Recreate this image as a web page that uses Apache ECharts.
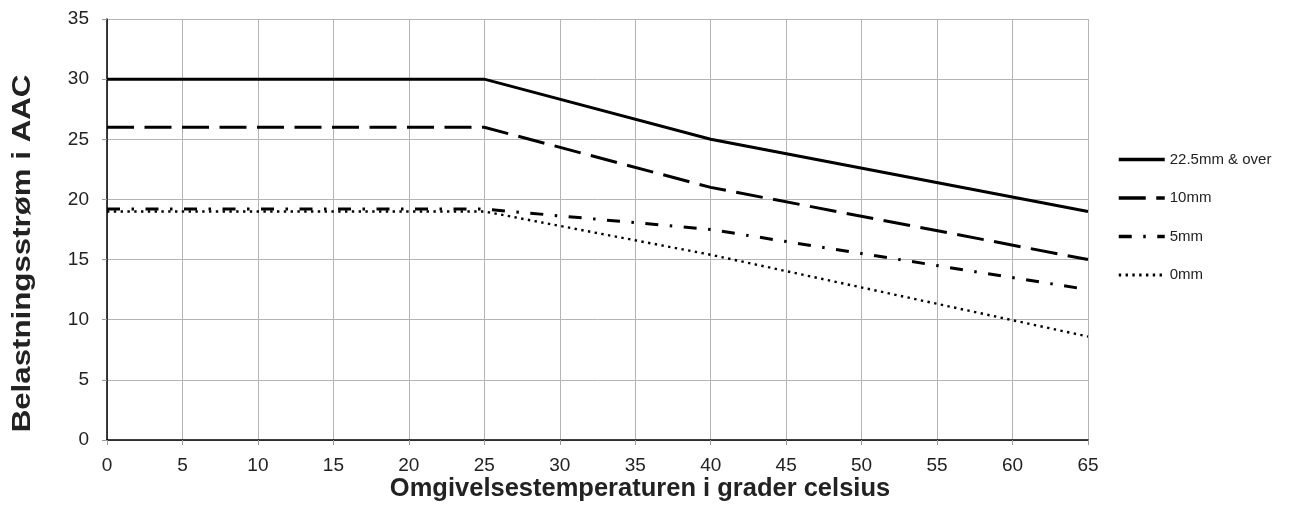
<!DOCTYPE html>
<html>
<head>
<meta charset="utf-8">
<script src="https://cdn.jsdelivr.net/npm/echarts@6/dist/echarts.min.js"></script>
<style>
html,body{margin:0;padding:0;background:#fff;}
#chart{width:1298px;height:506px;}
</style>
</head>
<body>
<div id="chart"></div>
<script>
var temps = [0, 25, 40, 65];
var s22 = [30, 30, 25, 19];
var s10 = [26, 26, 21, 15];
var s5 = [19.2, 19.2, 17.5, 12.5];
var s0 = [19, 19, 15.4, 8.6];
var seriesNames = ['22.5mm & over', '10mm', '5mm', '0mm'];
var xTitle = 'Omgivelsestemperaturen i grader celsius';
var yTitle = 'Belastningsstrøm i AAC';

function pts(vals){ return temps.map(function(t,i){ return [t, vals[i]]; }); }

var FONT = '"Liberation Sans", Arial, sans-serif';
var styles = [
  {width: 3, type: 'solid'},
  {width: 3, type: [27, 10.5]},
  {width: 3, type: [13, 11.5, 2.5, 11.5]},
  {width: 2.4, type: [2.4, 4.4]}
];
var allVals = [s22, s10, s5, s0];

var chart = echarts.init(document.getElementById('chart'), null, {renderer: 'canvas'});
chart.setOption({
  animation: false,
  backgroundColor: '#ffffff',
  grid: {left: 107, right: 210, top: 19, bottom: 66, containLabel: false},
  legend: {
    orient: 'vertical',
    left: 1117,
    top: 152,
    padding: 0,
    itemWidth: 46,
    itemHeight: 14,
    itemGap: 23.5,
    itemStyle: {opacity: 0},
    textStyle: {fontFamily: FONT, fontSize: 15, color: '#222'},
    data: seriesNames.map(function(n, i){
      return {name: n, lineStyle: {color: '#000', width: styles[i].width + 0.5, type: styles[i].type, cap: 'butt'}};
    })
  },
  xAxis: {
    type: 'value', min: 0, max: 65, interval: 5,
    axisLine: {show: true, onZero: false, lineStyle: {color: '#000', width: 1.5}},
    axisTick: {show: true, length: 5, lineStyle: {color: '#999'}},
    axisLabel: {fontFamily: FONT, fontSize: 19, color: '#222', margin: 16},
    splitLine: {show: true, lineStyle: {color: '#b4b4b4', width: 1}}
  },
  yAxis: {
    type: 'value', min: 0, max: 35, interval: 5,
    axisLine: {show: true, onZero: false, lineStyle: {color: '#000', width: 1.5}},
    axisTick: {show: true, length: 5, lineStyle: {color: '#999'}},
    axisLabel: {fontFamily: FONT, fontSize: 19, color: '#222', margin: 18},
    splitLine: {show: true, lineStyle: {color: '#b4b4b4', width: 1}}
  },
  graphic: [
    {
      type: 'text', x: 23, y: 253.5, rotation: Math.PI / 2, scaleX: 1.25,
      style: {text: yTitle, x: 0, y: 0, font: 'bold 25px ' + FONT, fill: '#222',
        textAlign: 'center', textVerticalAlign: 'middle', align: 'center', verticalAlign: 'middle'}
    },
    {
      type: 'text', x: 640, y: 489, scaleX: 1.02,
      style: {text: xTitle, x: 0, y: 0, font: 'bold 25px ' + FONT, fill: '#222',
        textAlign: 'center', textVerticalAlign: 'middle', align: 'center', verticalAlign: 'middle'}
    }
  ],
  series: seriesNames.map(function(n, i){
    return {
      name: n, type: 'line', data: pts(allVals[i]),
      symbol: 'none', showSymbol: false,
      lineStyle: {color: '#000', width: styles[i].width, type: styles[i].type, cap: 'butt', join: 'miter'},
      itemStyle: {color: '#000'}
    };
  })
});
</script>
</body>
</html>
